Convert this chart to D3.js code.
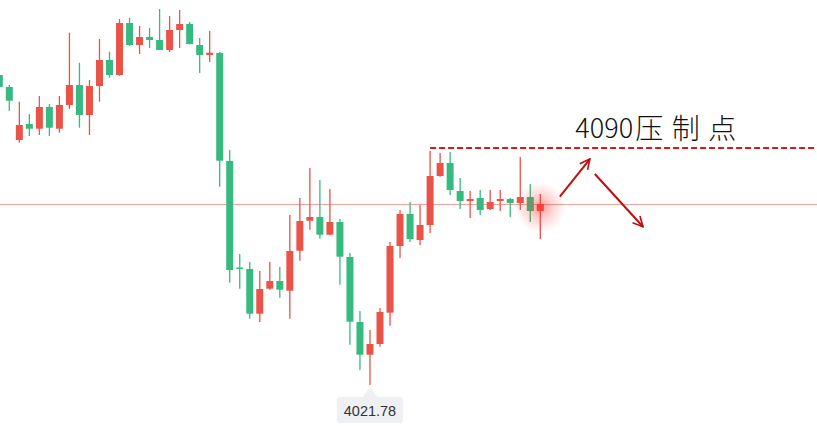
<!DOCTYPE html>
<html>
<head>
<meta charset="utf-8">
<script src="https://cdn.jsdelivr.net/npm/d3@7/dist/d3.min.js"></script>
<style>
    html, body { margin: 0; padding: 0; background: #fff; }
    #chart { width: 817px; height: 426px; }
</style>
</head>
<body>
<div id="chart"></div>
<script>
'use strict';

// candles, oldest first (red = up, green = down)
var opens = [4111.01, 4107.56, 4092.30, 4096.91, 4095.55, 4101.80, 4095.55, 4102.38, 4108.13, 4099.50,
    4107.84, 4115.33, 4111.01, 4125.98, 4119.65, 4121.95, 4121.09, 4118.21, 4123.96, 4125.69,
    4119.65, 4116.77, 4117.34, 4086.26, 4055.60, 4055.17, 4042.30, 4049.50, 4051.71, 4048.92,
    4060.44, 4069.07, 4070.14, 4065.04, 4068.70, 4058.62, 4039.91, 4030.50, 4033.58, 4042.59,
    4061.79, 4071.00, 4063.52, 4067.83, 4081.94, 4085.68, 4077.62, 4074.74, 4075.61, 4072.44,
    4074.74, 4075.32, 4074.17, 4075.89, 4071.86];
var highs = [4111.87, 4108.13, 4103.33, 4099.79, 4104.97, 4102.66, 4104.97, 4123.19, 4114.55, 4109.57,
    4121.37, 4117.72, 4127.13, 4127.51, 4125.12, 4124.54, 4130.01, 4127.99, 4129.72, 4126.27,
    4121.66, 4123.68, 4117.63, 4089.42, 4059.49, 4057.18, 4054.59, 4057.18, 4055.74, 4070.71,
    4075.61, 4084.24, 4080.79, 4078.20, 4069.56, 4059.77, 4043.08, 4037.61, 4043.94, 4062.94,
    4072.15, 4074.45, 4073.59, 4089.13, 4088.56, 4088.85, 4081.36, 4077.62, 4077.91, 4077.91,
    4077.91, 4075.61, 4087.41, 4079.64, 4076.76];
var lows = [4106.69, 4100.65, 4091.52, 4093.45, 4093.74, 4093.45, 4094.40, 4101.22, 4095.84, 4093.74,
    4103.33, 4110.23, 4110.80, 4119.36, 4117.06, 4118.78, 4118.21, 4117.63, 4118.78, 4119.80,
    4111.59, 4114.75, 4078.86, 4051.22, 4049.50, 4040.86, 4039.91, 4049.21, 4046.91, 4040.86,
    4057.56, 4066.48, 4063.89, 4064.90, 4050.65, 4033.38, 4026.10, 4021.78, 4032.80, 4038.85,
    4058.33, 4062.94, 4062.08, 4065.53, 4081.70, 4076.47, 4072.44, 4069.85, 4070.71, 4072.15,
    4071.86, 4070.14, 4072.15, 4068.70, 4063.80];
var closes = [4107.56, 4103.61, 4096.62, 4095.55, 4101.80, 4095.84, 4102.38, 4108.13, 4099.50, 4107.84,
    4115.33, 4111.01, 4125.98, 4119.65, 4121.95, 4121.09, 4118.21, 4123.96, 4125.69, 4119.93,
    4116.77, 4117.43, 4086.34, 4054.88, 4055.17, 4042.30, 4049.41, 4051.71, 4049.21, 4060.35,
    4068.99, 4070.14, 4065.04, 4068.70, 4058.71, 4040.00, 4030.50, 4033.58, 4042.79, 4061.79,
    4071.00, 4063.80, 4067.83, 4081.94, 4085.68, 4077.91, 4074.74, 4075.32, 4072.15, 4074.45,
    4075.32, 4074.17, 4075.89, 4071.86, 4073.88];

// annotation
var resistancePrice = 4090;
var resistanceStart = 43; // candle index where the dashed line starts
var noteText = ['4090', '压制点'];
var noteAt = [57.5, 4093.0]; // [index, price]
var arrowUp = [[55.95, 4075.98], [58.95, 4086.83]];
var arrowDown = [[59.45, 4082.51], [64.25, 4067.34]];

var width = 817, height = 426;
var upColor = '#ea5347', downColor = '#36ba80';

var data = opens.map(function (o, i) {
    return { i: i, open: o, high: highs[i], low: lows[i], close: closes[i] };
});

var svg = d3.select('#chart').append('svg')
    .attr('width', width).attr('height', height);

var x = d3.scaleLinear().domain([0, data.length - 1]).range([-0.7, 540.3]);
var y = d3.scaleLinear().domain([4021.78, 4090]).range([385, 148]);

var defs = svg.append('defs');
var glow = defs.append('radialGradient').attr('id', 'glow');
glow.append('stop').attr('offset', '0%').attr('stop-color', '#ff2a2a').attr('stop-opacity', 0.5);
glow.append('stop').attr('offset', '45%').attr('stop-color', '#ff3030').attr('stop-opacity', 0.22);
glow.append('stop').attr('offset', '100%').attr('stop-color', '#ff3030').attr('stop-opacity', 0);

defs.append('marker').attr('id', 'head')
    .attr('viewBox', '0 0 12 12').attr('refX', 11).attr('refY', 6)
    .attr('markerWidth', 6).attr('markerHeight', 6).attr('markerUnits', 'strokeWidth')
    .attr('orient', 'auto')
    .append('path').attr('d', 'M1,1 L11,6 L1,11')
    .attr('fill', 'none').attr('stroke', '#c00d0d').attr('stroke-width', 1.6);

var last = data[data.length - 1];

// last price line
svg.append('line')
    .attr('x1', 0).attr('x2', width)
    .attr('y1', Math.round(y(last.close)) + 0.5).attr('y2', Math.round(y(last.close)) + 0.5)
    .attr('stroke', '#f5a29c').attr('stroke-width', 1);

// candles
var candles = svg.append('g').selectAll('g').data(data).enter().append('g')
    .attr('fill', function (d) { return d.close >= d.open ? upColor : downColor; })
    .attr('stroke', function (d) { return d.close >= d.open ? upColor : downColor; });

candles.append('line')
    .attr('x1', function (d) { return x(d.i); })
    .attr('x2', function (d) { return x(d.i); })
    .attr('y1', function (d) { return y(d.high); })
    .attr('y2', function (d) { return y(d.low); })
    .attr('stroke-width', 1.3);

candles.append('rect')
    .attr('x', function (d) { return x(d.i) - 3.5; })
    .attr('width', 7)
    .attr('y', function (d) { return y(Math.max(d.open, d.close)); })
    .attr('height', function (d) { return Math.max(1.5, Math.abs(y(d.open) - y(d.close))); })
    .attr('stroke', 'none');

// glow on the live candle
svg.append('circle')
    .attr('cx', x(last.i)).attr('cy', y((last.open + last.close) / 2))
    .attr('r', 25).attr('fill', 'url(#glow)');

// resistance line
svg.append('line')
    .attr('x1', x(resistanceStart)).attr('x2', width)
    .attr('y1', y(resistancePrice)).attr('y2', y(resistancePrice))
    .attr('stroke', '#d41a1a').attr('stroke-width', 2)
    .attr('stroke-dasharray', '6,3');

// arrows
[arrowUp, arrowDown].forEach(function (a) {
    svg.append('line')
        .attr('x1', x(a[0][0])).attr('y1', y(a[0][1]))
        .attr('x2', x(a[1][0])).attr('y2', y(a[1][1]))
        .attr('stroke', '#c00d0d').attr('stroke-width', 2)
        .attr('marker-end', 'url(#head)');
});

// note text
var note = svg.append('text')
    .attr('x', x(noteAt[0])).attr('y', y(noteAt[1]))
    .attr('font-family', '"Noto Sans CJK SC", "Noto Sans", sans-serif')
    .attr('font-weight', 300).attr('font-size', 27).attr('fill', '#111');
note.append('tspan').text(noteText[0]);
note.append('tspan').attr('dx', 2).attr('font-size', 28).attr('dy', 1)
    .attr('letter-spacing', 8.5).text(noteText[1]);

// low price label
var lowIdx = d3.minIndex(lows);
var lx = x(lowIdx), ly = y(lows[lowIdx]);
var tagPath = d3.path();
tagPath.moveTo(lx - 30, ly + 12);
tagPath.lineTo(lx - 7.5, ly + 12);
tagPath.lineTo(lx, ly + 2);
tagPath.lineTo(lx + 7.5, ly + 12);
tagPath.lineTo(lx + 30, ly + 12);
tagPath.quadraticCurveTo(lx + 33, ly + 12, lx + 33, ly + 15);
tagPath.lineTo(lx + 33, ly + 35);
tagPath.quadraticCurveTo(lx + 33, ly + 38, lx + 30, ly + 38);
tagPath.lineTo(lx - 30, ly + 38);
tagPath.quadraticCurveTo(lx - 33, ly + 38, lx - 33, ly + 35);
tagPath.lineTo(lx - 33, ly + 15);
tagPath.quadraticCurveTo(lx - 33, ly + 12, lx - 30, ly + 12);
tagPath.closePath();

var tag = svg.append('g');
tag.append('path').attr('d', tagPath.toString()).attr('fill', '#eef0f3');
tag.append('text')
    .attr('x', lx).attr('y', ly + 30.5)
    .attr('text-anchor', 'middle')
    .attr('font-family', '"Liberation Sans", Arial, sans-serif')
    .attr('font-size', 14.5).attr('fill', '#333')
    .text(lows[lowIdx].toFixed(2));
</script>
</body>
</html>
